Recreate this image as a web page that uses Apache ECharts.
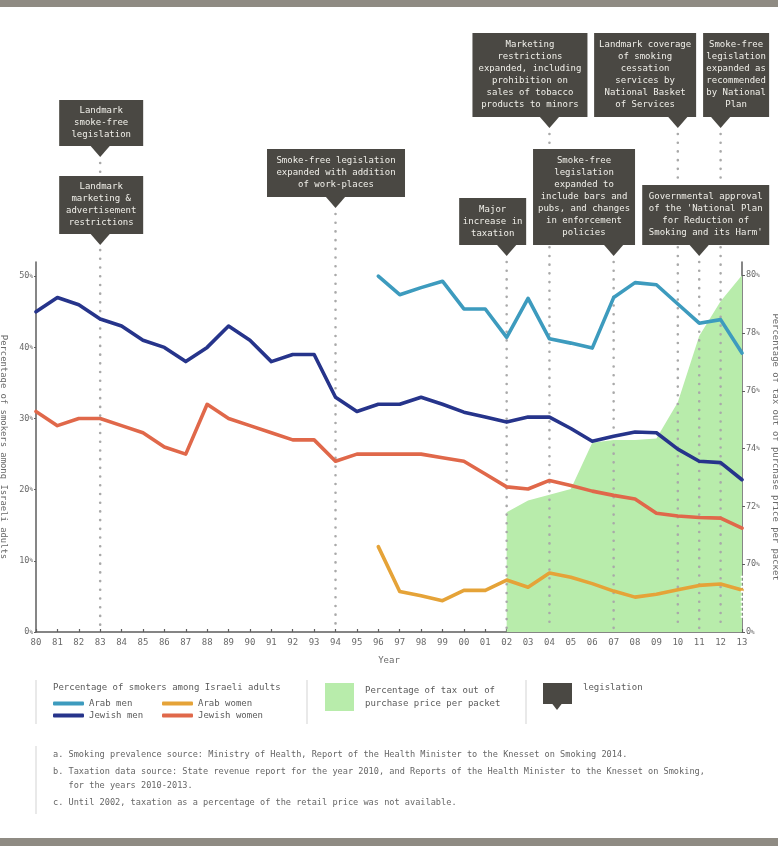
<!DOCTYPE html>
<html>
<head>
<meta charset="utf-8">
<script src="https://cdn.jsdelivr.net/npm/echarts@6/dist/echarts.min.js"></script>
<style>
html,body{margin:0;padding:0;background:#fff}
#chart{width:778px;height:846px}
</style>
</head>
<body>
<div id="chart"></div>
<script>
// ---- data ----
var YEARS=['80','81','82','83','84','85','86','87','88','89','90','91','92','93','94','95','96','97','98','99',
  '00','01','02','03','04','05','06','07','08','09','10','11','12','13'];
var JEWISH_MEN=[45,47,46,44,43,41,40,38,40,43,41,38,39,39,33,31,32,32,33,32,
  30.9,30.2,29.5,30.2,30.2,28.6,26.8,27.5,28.1,28,25.7,24,23.8,21.4];
var JEWISH_WOMEN=[31,29,30,30,29,28,26,25,32,30,29,28,27,27,24,25,25,25,25,24.5,
  24,22.2,20.4,20.1,21.3,20.6,19.8,19.2,18.7,16.7,16.3,16.1,16,14.6];
var ARAB_MEN=[null,null,null,null,null,null,null,null,null,null,null,null,null,null,null,null,50,47.4,48.4,49.3,
  45.4,45.4,41.4,46.9,41.2,40.6,39.9,47,49.1,48.8,46.1,43.4,43.9,39.2];
var ARAB_WOMEN=[null,null,null,null,null,null,null,null,null,null,null,null,null,null,null,null,12,5.7,5.1,4.4,
  5.85,5.85,7.3,6.3,8.3,7.7,6.8,5.75,4.9,5.3,5.95,6.55,6.75,5.9];
var TAX=[null,null,null,null,null,null,null,null,null,null,null,null,null,null,null,null,null,null,null,null,
  null,null,71.8,72.2,72.4,72.6,74.2,74.3,74.3,74.35,75.6,77.9,79.1,80];
var LEFT_TICKS=[0,10,20,30,40,50];
var RIGHT_TICKS=[67.65,70,72,74,76,78,80]; // lowest one is the broken-axis "0%"
var EVENT_YEARS=['83','83','94','02','04','07','10','11','12'];
var EVENT_TEXTS=[
  'Landmark\nsmoke-free\nlegislation',
  'Landmark\nmarketing &\nadvertisement\nrestrictions',
  'Smoke-free legislation\nexpanded with addition\nof work-places',
  'Major\nincrease in\ntaxation',
  'Marketing\nrestrictions\nexpanded, including\nprohibition on\nsales of tobacco\nproducts to minors',
  'Smoke-free\nlegislation\nexpanded to\ninclude bars and\npubs, and changes\nin enforcement\npolicies',
  'Landmark coverage\nof smoking\ncessation\nservices by\nNational Basket\nof Services',
  'Governmental approval\nof the \'National Plan\nfor Reduction of\nSmoking and its Harm\'',
  'Smoke-free\nlegislation\nexpanded as\nrecommended\nby National\nPlan'
];
var FOOTNOTES=[
  'a. Smoking prevalence source: Ministry of Health, Report of the Health Minister to the Knesset on Smoking 2014.',
  'b. Taxation data source: State revenue report for the year 2010, and Reports of the Health Minister to the Knesset on Smoking,',
  '   for the years 2010-2013.',
  'c. Until 2002, taxation as a percentage of the retail price was not available.'
];

// ---- layout / style ----
// box layout per event: [offset of box centre from pointer, top, width, height]
var BOX_LAYOUT=[[1,100,84,46],[1,176,84,58],[0.5,149,138,48],[-14,198,67,47],[-19.5,33,115,84],
  [-29.6,149,102,96],[-32.7,33,102,84],[6.5,185,127,60],[15.5,33,66,84]];
var FOOT_Y=[755,772,786,803];
var MONO='"DejaVu Sans Mono", "Liberation Mono", monospace';
var BOX_COL='#4a4843', DOT_COL='#a9a9a9', AXIS_COL='#5e5e5e', TXT='#6a6a6a';
var C_AM='#3d9bbe', C_JM='#26348b', C_AW='#e5a338', C_JW='#e0684a', C_TAX='#b8ecab';

var chart=echarts.init(document.getElementById('chart'));

function leftLabel(v){ return '{n|'+v+'}{p|%}'; }
function rightLabel(v){ return '{n|'+(v<69?0:v)+'}{p|%}'; }
var tickRich={n:{fontSize:8.5,fontFamily:MONO,color:TXT},p:{fontSize:6,fontFamily:MONO,color:TXT}};
var txt={fontFamily:MONO,fontSize:9,color:'#5a5a5a'};

function lineSeries(name,data,color){
  return {name:name,type:'line',data:data,symbol:'none',connectNulls:false,z:3,color:color,
    lineStyle:{width:3.6,color:color,cap:'round',join:'round'}};
}

chart.setOption({
  animation:false,
  backgroundColor:'#fff',
  grid:{left:36,right:36,top:262,bottom:214,containLabel:false,outerBoundsMode:'none'},
  xAxis:{type:'category',data:YEARS,boundaryGap:false,
    name:'Year',nameLocation:'middle',nameGap:24,nameTextStyle:{fontFamily:MONO,fontSize:9,color:TXT},
    axisLine:{lineStyle:{color:AXIS_COL,width:1.5}},
    axisTick:{inside:true,length:3,lineStyle:{color:AXIS_COL,width:1.2}},
    axisLabel:{fontFamily:MONO,fontSize:9,color:TXT,margin:6,interval:0},
    splitLine:{show:false}},
  yAxis:[
    {type:'value',min:0,max:52,position:'left',
      name:'Percentage of smokers among Israeli adults',nameLocation:'middle',nameRotate:-90,nameGap:22,
      nameTextStyle:{fontFamily:MONO,fontSize:8.9,color:TXT},
      axisLine:{show:true,lineStyle:{color:AXIS_COL,width:1.5}},
      axisTick:{show:true,length:2,customValues:LEFT_TICKS,lineStyle:{color:AXIS_COL}},
      axisLabel:{customValues:LEFT_TICKS,formatter:leftLabel,rich:tickRich,margin:3},
      splitLine:{show:false}},
    {type:'value',min:67.65,max:80.46,position:'right',
      name:'Percentage of tax out of purchase price per packet',nameLocation:'middle',nameRotate:-90,nameGap:26,
      nameTextStyle:{fontFamily:MONO,fontSize:8.9,color:TXT},
      axisLine:{show:true,lineStyle:{color:AXIS_COL,width:1.5}},
      axisTick:{show:true,length:3,customValues:RIGHT_TICKS,lineStyle:{color:AXIS_COL}},
      axisLabel:{customValues:RIGHT_TICKS,formatter:rightLabel,rich:tickRich,margin:4},
      splitLine:{show:false}}
  ],
  legend:[
    {data:['Arab men','Jewish men'],orient:'vertical',left:53,top:699,padding:0,itemGap:3,icon:'roundRect',
      itemWidth:31,itemHeight:4,textStyle:txt,selectedMode:false},
    {data:['Arab women','Jewish women'],orient:'vertical',left:162,top:699,padding:0,itemGap:3,icon:'roundRect',
      itemWidth:31,itemHeight:4,textStyle:txt,selectedMode:false},
    {data:['Percentage of tax out of purchase price per packet'],left:325,top:683,padding:0,icon:'rect',
      itemWidth:29,itemHeight:28,selectedMode:false,
      formatter:function(){return 'Percentage of tax out of\npurchase price per packet';},
      textStyle:{fontFamily:MONO,fontSize:9,color:'#5a5a5a',lineHeight:13,padding:[0,0,0,6]}}
  ],
  series:[
    {name:'Percentage of tax out of purchase price per packet',type:'line',yAxisIndex:1,data:TAX,symbol:'none',
      z:1,color:C_TAX,lineStyle:{width:0},areaStyle:{color:C_TAX,opacity:1,origin:'start'}},
    lineSeries('Arab men',ARAB_MEN,C_AM),
    lineSeries('Jewish men',JEWISH_MEN,C_JM),
    lineSeries('Arab women',ARAB_WOMEN,C_AW),
    lineSeries('Jewish women',JEWISH_WOMEN,C_JW)
  ]
});

// ---- annotation boxes, dotted event lines, legend extras, footnotes ----
var g=[];
var y0=chart.convertToPixel({yAxisIndex:0},0);
function boxShape(cx,px,top,w,h,text,z){
  g.push({type:'rect',z:z,shape:{x:cx-w/2,y:top,width:w,height:h},style:{fill:BOX_COL}});
  g.push({type:'polygon',z:z,shape:{points:[[px-10,top+h-0.5],[px+10,top+h-0.5],[px,top+h+11]]},style:{fill:BOX_COL}});
  if(text) g.push({type:'text',z:z+1,style:{text:text,x:cx,y:top+h/2,align:'center',textAlign:'center',
    verticalAlign:'middle',textVerticalAlign:'middle',fill:'#f1f0ea',fontFamily:MONO,fontSize:9,
    font:'9px '+MONO,lineHeight:12}});
}
var tipTop={};
EVENT_YEARS.forEach(function(yr,i){
  var L=BOX_LAYOUT[i], tip=L[1]+L[3]+11;
  if(tipTop[yr]===undefined||tip<tipTop[yr]) tipTop[yr]=tip;
});
Object.keys(tipTop).forEach(function(yr){
  var x=chart.convertToPixel({xAxisIndex:0},yr);
  g.push({type:'line',z:2,shape:{x1:x,y1:tipTop[yr]+6,x2:x,y2:y0-2},
    style:{stroke:DOT_COL,lineWidth:2.6,lineDash:[0.01,8.7],lineCap:'round'}});
});
EVENT_YEARS.forEach(function(yr,i){
  var L=BOX_LAYOUT[i], x=chart.convertToPixel({xAxisIndex:0},yr);
  boxShape(x+L[0],x,L[1],L[2],L[3],EVENT_TEXTS[i],10);
});
// broken right axis
var xr=chart.convertToPixel({xAxisIndex:0},'13');
g.push({type:'line',z:20,shape:{x1:xr,y1:chart.convertToPixel({yAxisIndex:1},69.6),x2:xr,y2:chart.convertToPixel({yAxisIndex:1},68.1)},
  style:{stroke:'#fff',lineWidth:2.5,lineDash:[2,3]}});
// top & bottom bands
g.push({type:'rect',shape:{x:0,y:0,width:778,height:7},style:{fill:'#8f8b83'}});
g.push({type:'rect',shape:{x:0,y:838,width:778,height:8},style:{fill:'#8f8b83'}});
// legend separators and extras
[[36,680,724],[307,680,724],[526,680,724],[36,746,814]].forEach(function(s){
  g.push({type:'line',shape:{x1:s[0],y1:s[1],x2:s[0],y2:s[2]},style:{stroke:'#e2e2e2',lineWidth:1.5}});
});
g.push({type:'text',style:{text:'Percentage of smokers among Israeli adults',x:53,y:688,verticalAlign:'middle',
  textVerticalAlign:'middle',fill:'#5a5a5a',fontFamily:MONO,fontSize:9,font:'9px '+MONO}});
g.push({type:'rect',shape:{x:543,y:683,width:29,height:21},style:{fill:BOX_COL}});
g.push({type:'polygon',shape:{points:[[552,703.5],[562,703.5],[557,710]]},style:{fill:BOX_COL}});
g.push({type:'text',style:{text:'legislation',x:583,y:688,verticalAlign:'middle',textVerticalAlign:'middle',
  fill:'#5a5a5a',fontFamily:MONO,fontSize:9,font:'9px '+MONO}});
FOOTNOTES.forEach(function(t,i){
  g.push({type:'text',style:{text:t,x:53,y:FOOT_Y[i],verticalAlign:'middle',textVerticalAlign:'middle',
    fill:'#666',fontFamily:MONO,fontSize:8.6,font:'8.6px '+MONO}});
});
chart.setOption({graphic:{elements:g}});
</script>
</body>
</html>
